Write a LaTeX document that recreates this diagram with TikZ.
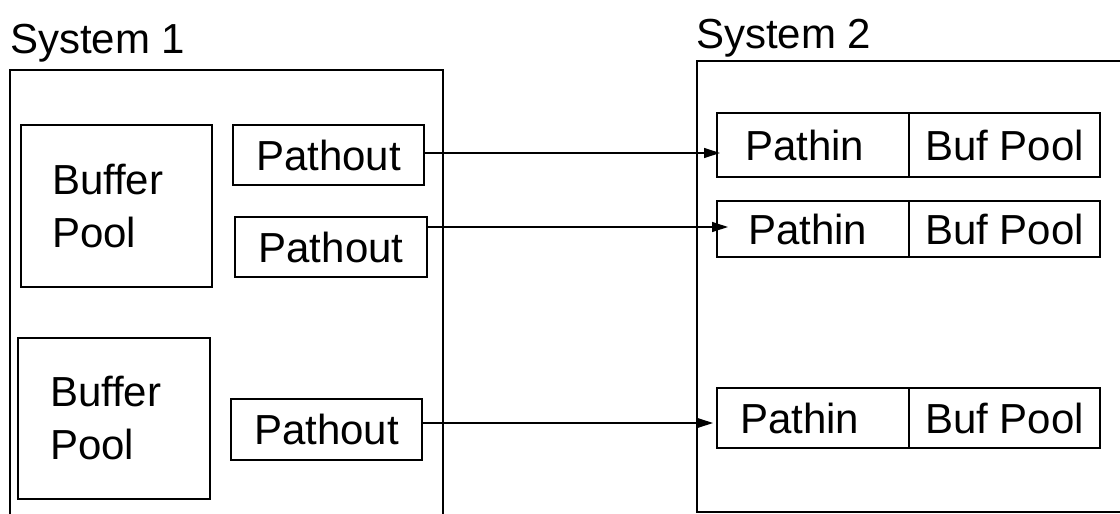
\documentclass[tikz,border=0pt]{standalone}
\usepackage{fontspec}
\setmainfont{Liberation Sans}
\usetikzlibrary{arrows.meta}
\begin{document}
\begin{tikzpicture}[x=1pt,y=-1pt,
  lw/.style={line width=1.4pt},
  bigfont/.style={font=\fontsize{42}{53}\selectfont},
  box/.style={draw,lw,rectangle,inner sep=0pt,bigfont},
  lbl/.style={inner sep=0pt,anchor=base west,bigfont},
  arr/.style={line width=1.2pt,-{Triangle[length=16pt,width=10pt]}}]
\useasboundingbox (0,0) rectangle (1120,514);

% system frames (cut off by the picture edge)
\draw[lw] (10,514) -- (10,70) -- (443,70) -- (443,514);
\draw[lw] (1120,61) -- (697,61) -- (697,512) -- (1120,512);

\node[lbl] (s1) at (10,53) {System 1};
\node[lbl] (s2) at (696,48) {System 2};

% System 1 contents
\node[box,minimum width=191pt,minimum height=162pt,text width=129pt,align=left] (bp1) at (116.5,206) {Buffer\\Pool};
\node[box,minimum width=192pt,minimum height=161pt,text width=128pt,align=left] (bp2) at (114,418.5) {Buffer\\Pool};
\node[box,minimum width=191pt,minimum height=60pt] (po1) at (328.5,155) {Pathout};
\node[box,minimum width=192pt,minimum height=60pt] (po2) at (331,247) {Pathout};
\node[box,minimum width=191pt,minimum height=61pt] (po3) at (326.5,429.5) {Pathout};

% System 2 contents
\node[box,minimum width=192pt,minimum height=64pt,text width=136pt,align=left] (pi1) at (813,145) {Pathin};
\node[box,minimum width=191pt,minimum height=64pt] (bf1) at (1004.5,145) {Buf Pool};
\node[box,minimum width=192pt,minimum height=56pt,text width=130pt,align=left] (pi2) at (813,229) {Pathin};
\node[box,minimum width=191pt,minimum height=56pt] (bf2) at (1004.5,229) {Buf Pool};
\node[box,minimum width=192pt,minimum height=60pt,text width=146pt,align=left] (pi3) at (813,418) {Pathin};
\node[box,minimum width=191pt,minimum height=60pt] (bf3) at (1004.5,418) {Buf Pool};

% arrow tips
\coordinate (t1) at (720,153);
\coordinate (t2) at (728,227);
\coordinate (t3) at (713,423);

\draw[arr] (po1.east |- t1) -- (t1);
\draw[arr] (po2.east |- t2) -- (t2);
\draw[arr] (po3.east |- t3) -- (t3);
\end{tikzpicture}
\end{document}
